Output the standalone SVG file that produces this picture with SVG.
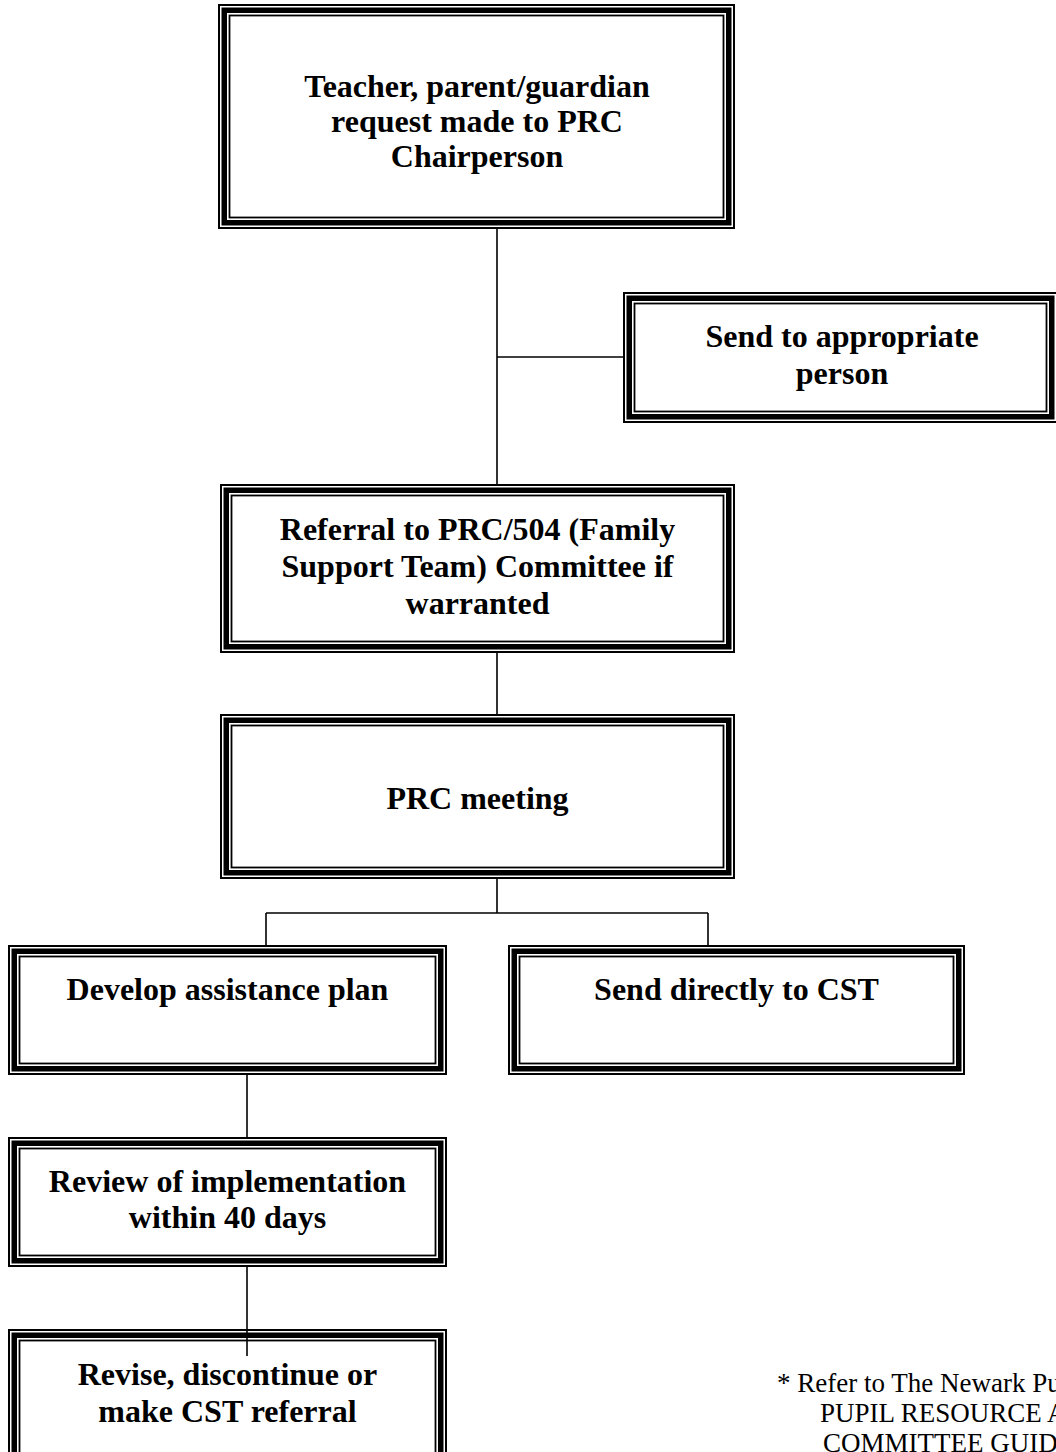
<svg xmlns="http://www.w3.org/2000/svg" width="1056" height="1452" viewBox="0 0 1056 1452">
<style>
.o{fill:#fff;stroke:#000;stroke-width:2}
.m{fill:none;stroke:#000;stroke-width:5.5}
.i{fill:none;stroke:#000;stroke-width:1.8}
.t{font-family:"Liberation Serif","Times New Roman",serif;font-weight:bold;font-size:32px;text-anchor:middle;fill:#000}
.n{font-family:"Liberation Serif","Times New Roman",serif;font-size:27px;fill:#000}
.c{fill:none;stroke:#000;stroke-width:1.6}
</style>
<rect width="1056" height="1452" fill="#fff"/>
<g id="n1">
<rect class="o" x="219" y="5" width="515" height="223"/>
<rect class="m" x="224.25" y="10.25" width="504.5" height="212.5"/>
<rect class="i" x="229.5" y="15.5" width="494" height="202"/>
<text class="t" x="477" y="97">Teacher, parent/guardian</text>
<text class="t" x="477" y="132">request made to PRC</text>
<text class="t" x="477" y="167">Chairperson</text>
</g>
<g id="n2">
<rect class="o" x="624" y="293" width="433" height="129"/>
<rect class="m" x="629.25" y="298.25" width="422.5" height="118.5"/>
<rect class="i" x="634.5" y="303.5" width="412" height="108"/>
<text class="t" x="842" y="347">Send to appropriate</text>
<text class="t" x="842" y="384">person</text>
</g>
<g id="n3">
<rect class="o" x="221" y="485" width="513" height="167"/>
<rect class="m" x="226.25" y="490.25" width="502.5" height="156.5"/>
<rect class="i" x="231.5" y="495.5" width="492" height="146"/>
<text class="t" x="477.5" y="540">Referral to PRC/504 (Family</text>
<text class="t" x="477.5" y="577">Support Team) Committee if</text>
<text class="t" x="477.5" y="614">warranted</text>
</g>
<g id="n4">
<rect class="o" x="221" y="715" width="513" height="163"/>
<rect class="m" x="226.25" y="720.25" width="502.5" height="152.5"/>
<rect class="i" x="231.5" y="725.5" width="492" height="142"/>
<text class="t" x="477.5" y="809">PRC meeting</text>
</g>
<g id="n5">
<rect class="o" x="9" y="946" width="437" height="128"/>
<rect class="m" x="14.25" y="951.25" width="426.5" height="117.5"/>
<rect class="i" x="19.5" y="956.5" width="416" height="107"/>
<text class="t" x="227.5" y="1000">Develop assistance plan</text>
</g>
<g id="n6">
<rect class="o" x="509" y="946" width="455" height="128"/>
<rect class="m" x="514.25" y="951.25" width="444.5" height="117.5"/>
<rect class="i" x="519.5" y="956.5" width="434" height="107"/>
<text class="t" x="736.5" y="1000">Send directly to CST</text>
</g>
<g id="n7">
<rect class="o" x="9" y="1138" width="437" height="128"/>
<rect class="m" x="14.25" y="1143.25" width="426.5" height="117.5"/>
<rect class="i" x="19.5" y="1148.5" width="416" height="107"/>
<text class="t" x="227.5" y="1192">Review of implementation</text>
<text class="t" x="227.5" y="1228">within 40 days</text>
</g>
<g id="n8">
<rect class="o" x="9" y="1330" width="437" height="150"/>
<rect class="m" x="14.25" y="1335.25" width="426.5" height="139.5"/>
<rect class="i" x="19.5" y="1340.5" width="416" height="129"/>
<text class="t" x="227.5" y="1385">Revise, discontinue or</text>
<text class="t" x="227.5" y="1422">make CST referral</text>
</g>
<g id="connectors">
<path class="c" d="M497 229V485"/>
<path class="c" d="M497 357H624"/>
<path class="c" d="M497 653V715"/>
<path class="c" d="M497 879V913M266 913H708M266 913V946M708 913V946"/>
<path class="c" d="M247 1075V1138"/>
<path class="c" d="M247 1267V1356"/>
</g>
<g id="footnote">
<text class="n" x="777" y="1392">* Refer to The Newark Pu</text>
<text class="n" x="820" y="1422">PUPIL RESOURCE A</text>
<text class="n" x="823" y="1452">COMMITTEE GUID</text>
</g>
</svg>
